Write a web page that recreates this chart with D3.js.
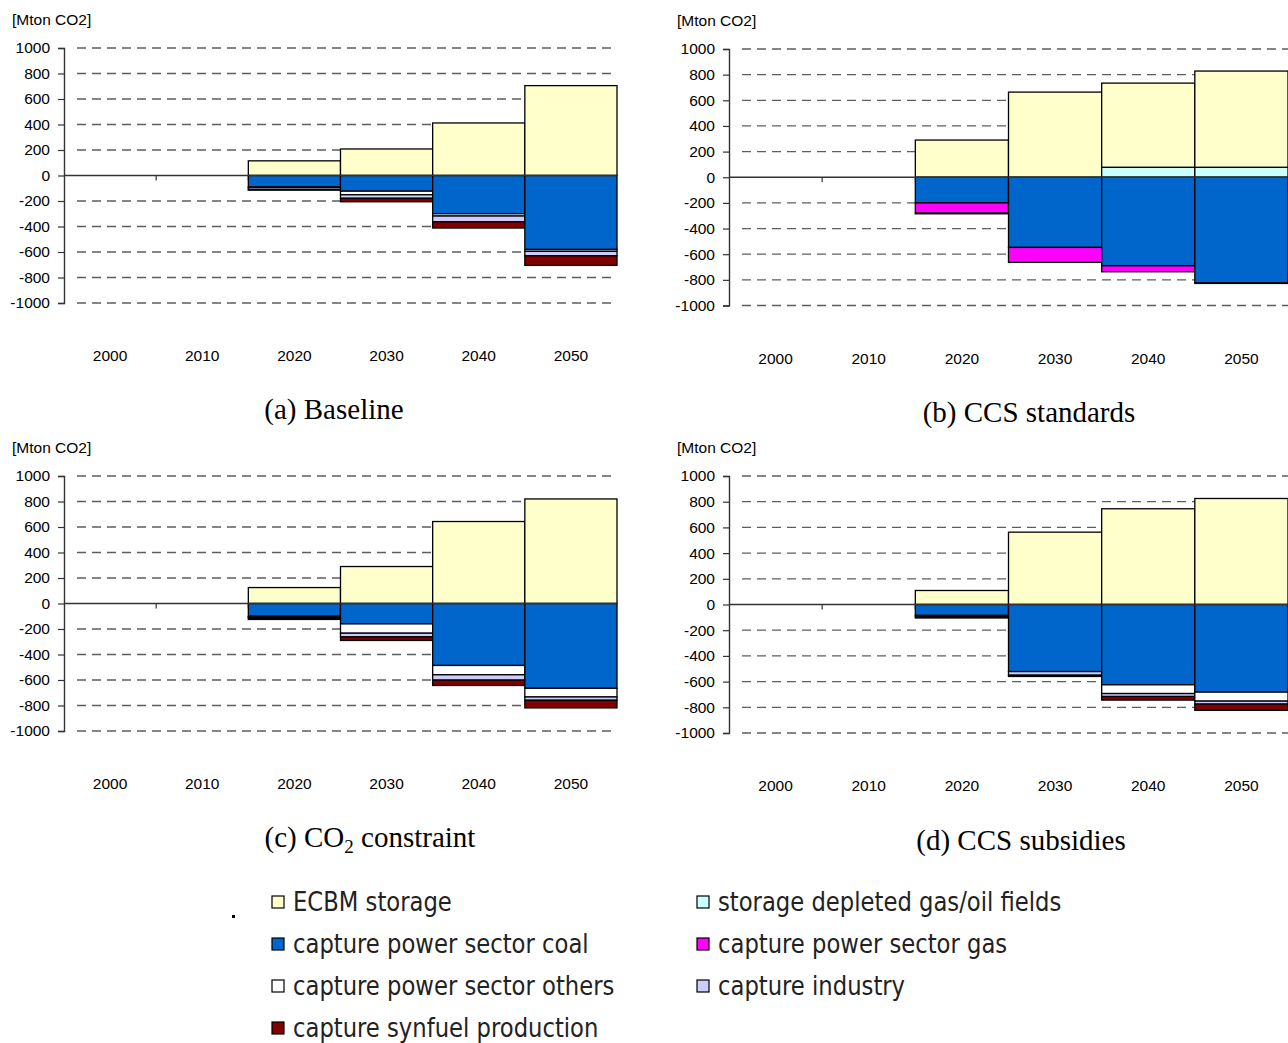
<!DOCTYPE html>
<html><head><meta charset="utf-8">
<script src="https://cdn.jsdelivr.net/npm/d3@7"></script>
<style>
html,body{margin:0;padding:0;background:#fff;}
svg{display:block;}
</style></head>
<body>
<svg id="chart" width="1288" height="1043"></svg>
<script>
// ---------------- DATA ----------------
const years = ["2000","2010","2020","2030","2040","2050"];
const yTicks = [1000,800,600,400,200,0,-200,-400,-600,-800,-1000];
const seriesNames = ["ECBM storage","storage depleted gas/oil fields","capture power sector coal","capture power sector gas","capture power sector others","capture industry","capture synfuel production"];
const seriesColors = ["#FFFFCC","#CCFFFF","#0066CC","#FF00FF","#FFFFFF","#CCCCFF","#800000"];
const panelTitles = ["(a) Baseline","(b) CCS standards","(c) CO2 constraint","(d) CCS subsidies"];
const unitLabel = "[Mton CO2]";

// (a) Baseline
const baseECBM     = [0,0,115,208,412,705];
const baseDepleted = [0,0,0,0,0,0];
const baseCoal     = [0,0,-90,-123,-300,-580];
const baseGas      = [0,0,0,0,0,0];
const baseOthers   = [0,0,-5,-28,-18,-15];
const baseIndustry = [0,0,-15,-28,-45,-35];
const baseSynfuel  = [0,0,-5,-27,-49,-75];
// (b) CCS standards
const stdECBM      = [0,0,290,664,656,750];
const stdDepleted  = [0,0,0,0,78,78];
const stdCoal      = [0,0,-200,-547,-690,-823];
const stdGas       = [0,0,-80,-117,-47,0];
const stdOthers    = [0,0,-5,0,0,-5];
const stdIndustry  = [0,0,0,0,0,0];
const stdSynfuel   = [0,0,0,0,0,0];
// (c) CO2 constraint
const conECBM      = [0,0,125,290,643,820];
const conDepleted  = [0,0,0,0,0,0];
const conCoal      = [0,0,-100,-160,-486,-665];
const conGas       = [0,0,0,0,0,0];
const conOthers    = [0,0,-5,-73,-73,-68];
const conIndustry  = [0,0,-10,-29,-42,-26];
const conSynfuel   = [0,0,-10,-28,-42,-60];
// (d) CCS subsidies
const subECBM      = [0,0,109,563,745,825];
const subDepleted  = [0,0,0,0,0,0];
const subCoal      = [0,0,-85,-522,-625,-682];
const subGas       = [0,0,0,0,0,0];
const subOthers    = [0,0,0,0,-68,-70];
const subIndustry  = [0,0,-8,-28,-23,-23];
const subSynfuel   = [0,0,-12,-10,-28,-49];

const scenarios = [
  [baseECBM,baseDepleted,baseCoal,baseGas,baseOthers,baseIndustry,baseSynfuel],
  [stdECBM,stdDepleted,stdCoal,stdGas,stdOthers,stdIndustry,stdSynfuel],
  [conECBM,conDepleted,conCoal,conGas,conOthers,conIndustry,conSynfuel],
  [subECBM,subDepleted,subCoal,subGas,subOthers,subIndustry,subSynfuel]
];

// ---------------- LAYOUT ----------------
const panels = [
  {x0:64, x1:617, yTop:48, yBot:303, unitX:12, unitY:25, xlabY:361, titleX:334, titleY:419},
  {x0:729, x1:1288, yTop:49, yBot:305.5, unitX:677, unitY:26, xlabY:364, titleX:1029, titleY:422},
  {x0:64, x1:617, yTop:476, yBot:731, unitX:12, unitY:453, xlabY:789, titleX:370, titleY:847},
  {x0:729, x1:1288, yTop:476, yBot:733, unitX:677, unitY:453, xlabY:791, titleX:1021, titleY:850}
];
const posOrder = [1,0];
const negOrder = [2,3,4,5,6];

const svg = d3.select("#chart");
const sans = "Arial, 'Liberation Sans', sans-serif";
const serif = "'Times New Roman', 'Liberation Serif', serif";

panels.forEach((p, pi) => {
  const data = scenarios[pi];
  const x = d3.scaleBand().domain(years).range([p.x0, p.x1]).paddingInner(0).paddingOuter(0);
  const y = d3.scaleLinear().domain([-1000,1000]).range([p.yBot, p.yTop]);
  const g = svg.append("g");

  // gridlines
  g.selectAll("line.grid").data(yTicks.filter(t => t !== 0)).join("line")
    .attr("x1", p.x0 + 13).attr("x2", p.x1)
    .attr("y1", d => y(d)).attr("y2", d => y(d))
    .attr("stroke", "#5e5e5e").attr("stroke-width", 1.3).attr("stroke-dasharray", "9,6");

  // y axis
  const yAxis = d3.axisLeft(y).tickValues(yTicks).tickSize(6).tickPadding(8).tickFormat(d => String(d));
  const ya = g.append("g").attr("transform", `translate(${p.x0},0)`).call(yAxis);
  ya.select(".domain").attr("stroke", "#333").attr("stroke-width", 1.4);
  ya.selectAll(".tick line").attr("stroke", "#333").attr("stroke-width", 1.2);
  ya.selectAll(".tick text").attr("font-family", sans).attr("font-size", 15.5).attr("fill", "#000");

  // x-axis category ticks (between categories)
  const bounds = years.map(yy => x(yy)).slice(1);
  g.selectAll("line.xt").data(bounds).join("line")
    .attr("x1", d => d).attr("x2", d => d)
    .attr("y1", y(0)).attr("y2", y(0) + 5)
    .attr("stroke", "#333").attr("stroke-width", 1.2);

  // stacked bars
  years.forEach((yr, i) => {
    let acc = 0;
    posOrder.forEach(si => {
      const v = data[si][i];
      if (v > 0) {
        g.append("rect").attr("x", x(yr)).attr("width", x.bandwidth())
          .attr("y", y(acc + v)).attr("height", y(acc) - y(acc + v))
          .attr("fill", seriesColors[si]).attr("stroke", "#000").attr("stroke-width", 1.3);
        acc += v;
      }
    });
    acc = 0;
    negOrder.forEach(si => {
      const v = data[si][i];
      if (v < 0) {
        g.append("rect").attr("x", x(yr)).attr("width", x.bandwidth())
          .attr("y", y(acc)).attr("height", y(acc + v) - y(acc))
          .attr("fill", seriesColors[si]).attr("stroke", "#000").attr("stroke-width", 1.3);
        acc += v;
      }
    });
  });

  // zero axis line
  g.append("line").attr("x1", p.x0).attr("x2", p.x1).attr("y1", y(0)).attr("y2", y(0))
    .attr("stroke", "#333").attr("stroke-width", 1.5);

  // x labels
  g.selectAll("text.xl").data(years).join("text")
    .attr("x", d => x(d) + x.bandwidth()/2).attr("y", p.xlabY)
    .attr("text-anchor", "middle").attr("font-family", sans).attr("font-size", 15.5)
    .text(d => d);

  // unit label
  g.append("text").attr("x", p.unitX).attr("y", p.unitY)
    .attr("font-family", sans).attr("font-size", 15.5).text(unitLabel);

  // title
  const t = g.append("text").attr("x", p.titleX).attr("y", p.titleY)
    .attr("text-anchor", "middle").attr("font-family", serif).attr("font-size", 29);
  if (panelTitles[pi].includes("CO2")) {
    const parts = panelTitles[pi].split("CO2");
    t.append("tspan").text(parts[0] + "CO");
    t.append("tspan").attr("font-size", 19).attr("dy", 6).text("2");
    t.append("tspan").attr("dy", -6).text(parts[1]);
  } else {
    t.text(panelTitles[pi]);
  }
});

// ---------------- LEGEND ----------------
const legendItems = [
  {s:0, col:0, row:0},{s:1, col:1, row:0},
  {s:2, col:0, row:1},{s:3, col:1, row:1},
  {s:4, col:0, row:2},{s:5, col:1, row:2},
  {s:6, col:0, row:3}
];
const lg = svg.append("g");
const colX = [272, 697];
const rowY = [902, 944, 986, 1028];
const legFont = "'DejaVu Sans Condensed', 'Liberation Sans Narrow', sans-serif";
lg.selectAll("rect").data(legendItems).join("rect")
  .attr("x", d => colX[d.col]).attr("y", d => rowY[d.row] - 6)
  .attr("width", 12).attr("height", 12)
  .attr("fill", d => seriesColors[d.s]).attr("stroke", "#000").attr("stroke-width", 1.2);
lg.selectAll("text").data(legendItems).join("text")
  .attr("transform", d => `translate(${colX[d.col] + 21},${rowY[d.row] + 9}) scale(0.935,1)`)
  .attr("font-family", legFont).attr("font-size", 27).attr("fill", "#222")
  .text(d => seriesNames[d.s]);
svg.append("rect").attr("x", 232).attr("y", 915).attr("width", 3).attr("height", 3).attr("fill", "#000");
</script>
</body></html>
